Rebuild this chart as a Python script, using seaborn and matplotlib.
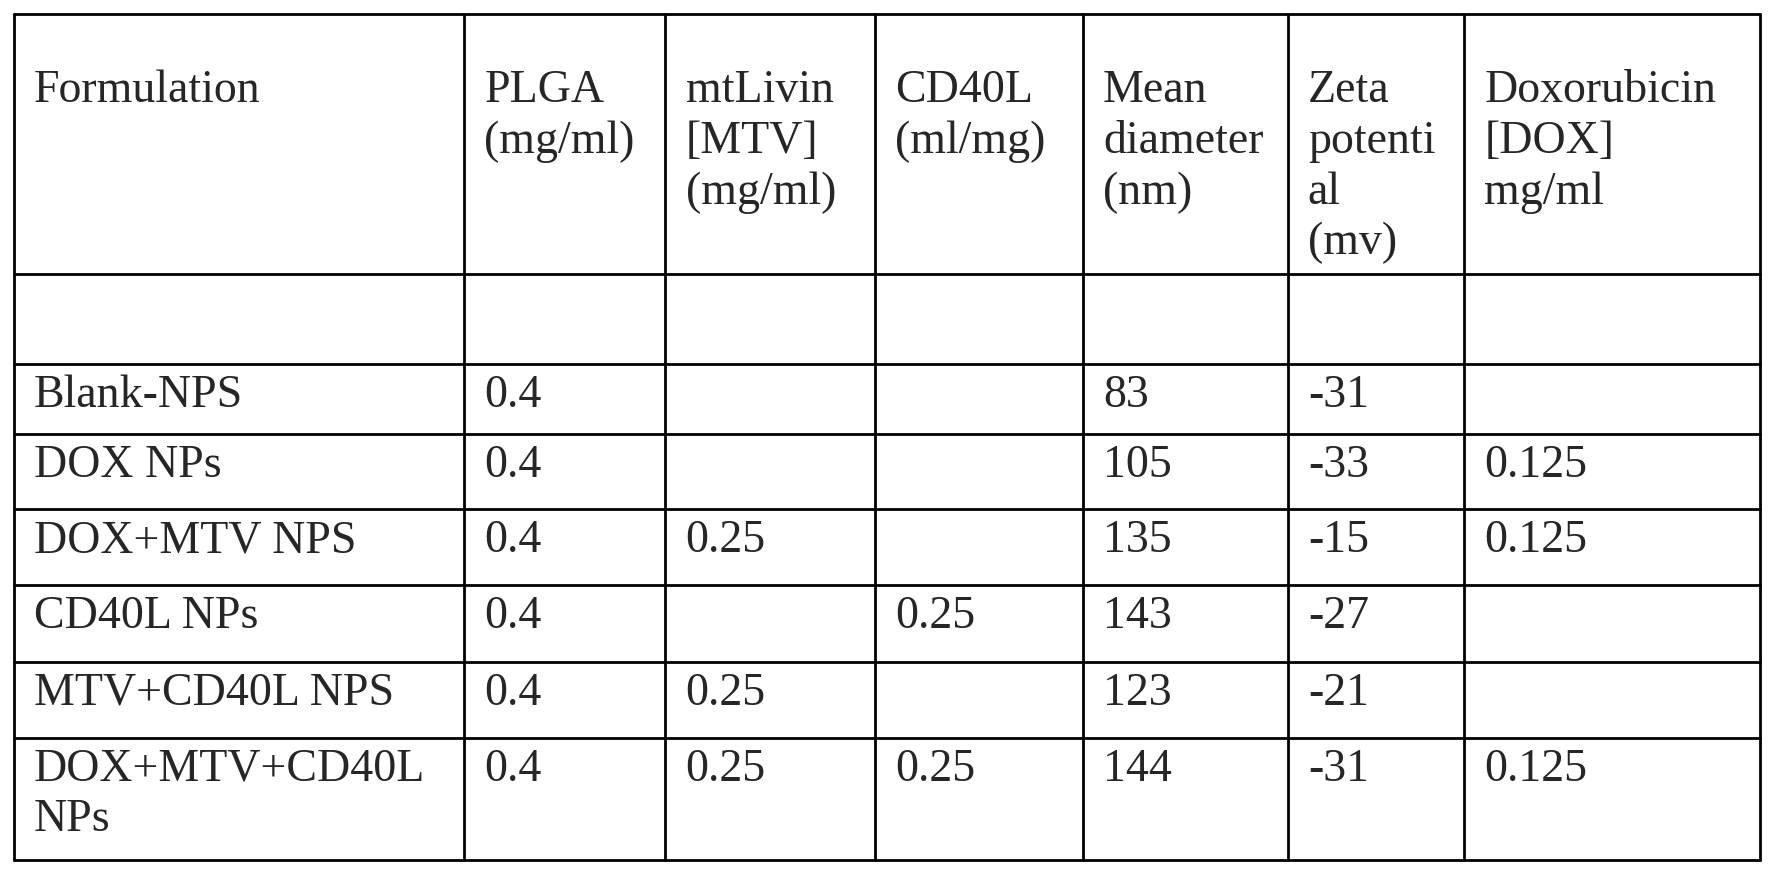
import matplotlib
matplotlib.use("Agg")
import matplotlib.pyplot as plt
import seaborn as sns

headers = [
    ["Formulation"],
    ["PLGA", "(mg/ml)"],
    ["mtLivin", "[MTV]", "(mg/ml)"],
    ["CD40L", "(ml/mg)"],
    ["Mean", "diameter", "(nm)"],
    ["Zeta", "potenti", "al", "(mv)"],
    ["Doxorubicin", "[DOX]", "mg/ml"],
]
formulations = [["Blank-NPS"], ["DOX NPs"], ["DOX+MTV NPS"], ["CD40L NPs"],
                ["MTV+CD40L NPS"], ["DOX+MTV+CD40L", "NPs"]]
plga = ["0.4", "0.4", "0.4", "0.4", "0.4", "0.4"]
mtv = ["", "", "0.25", "", "0.25", "0.25"]
cd40l = ["", "", "", "0.25", "", "0.25"]
diameter = ["83", "105", "135", "143", "123", "144"]
zeta = ["-31", "-33", "-15", "-27", "-21", "-31"]
dox = ["", "0.125", "0.125", "", "", "0.125"]

# layout in reference pixel space (1568 wide)
col_edges = [12, 410, 588, 773, 957, 1138, 1294, 1556]
row_edges = [12, 242, 322, 384, 450, 517, 585, 652, 760]
W, H = 1568, 1568 * 873 / 1774

sns.set_theme(style="white")
plt.rcParams["font.family"] = ["Liberation Serif", "DejaVu Serif"]

fig = plt.figure(figsize=(17.74, 8.73), dpi=100)
ax = fig.add_axes([0, 0, 1, 1])
ax.set_xlim(0, W)
ax.set_ylim(H, 0)
ax.axis("off")

for x in col_edges:
    ax.plot([x, x], [row_edges[0], row_edges[-1]], color="black", lw=2)
for y in row_edges:
    ax.plot([col_edges[0], col_edges[-1]], [y, y], color="black", lw=2)

fs = 33
line_h = 45
pad = 18

for j, lines in enumerate(headers):
    for k, t in enumerate(lines):
        ax.text(col_edges[j] + pad, 80 + k * line_h, t, fontsize=fs, va="center", ha="left")

columns = [formulations, plga, mtv, cd40l, diameter, zeta, dox]
for i in range(len(formulations)):
    ytop = row_edges[i + 2]
    for j, col in enumerate(columns):
        val = col[i]
        lines = val if isinstance(val, list) else [val]
        for k, t in enumerate(lines):
            ax.text(col_edges[j] + pad, ytop + 28 + k * line_h, t, fontsize=fs,
                    va="center", ha="left")

fig.savefig("out.png", dpi=100, facecolor="white")
